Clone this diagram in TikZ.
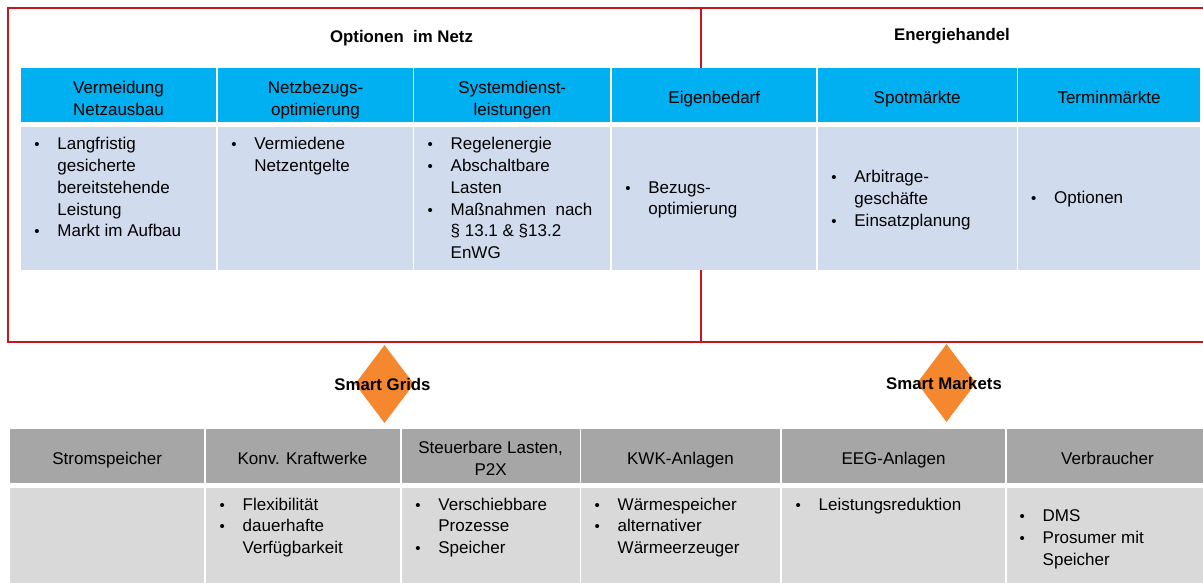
\documentclass[tikz,border=0pt]{standalone}
\usepackage{fontspec}
\setmainfont{Liberation Sans}
\usetikzlibrary{shapes.geometric}
\definecolor{hblue}{HTML}{00B0F0}
\definecolor{bblue}{HTML}{D1DBEE}
\definecolor{hgray}{HTML}{A6A6A6}
\definecolor{bgray}{HTML}{D9D9D9}
\definecolor{myred}{HTML}{C8161D}
\definecolor{myorange}{HTML}{F5872F}
\newcommand\bul{\makebox[21pt][l]{\makebox[1pt]{\fontsize{15}{15}\selectfont\textbullet}}}
\newcommand\cellbox[6]{%
  \pgfmathsetmacro\cw{#4-#2}\pgfmathsetmacro\ch{#5-#3}%
  \node[cell,fill=#6,minimum width=\cw pt,minimum height=\ch pt] (#1) at (#2,#3) {};}
\tikzset{
  cell/.style={draw=none,inner sep=0pt,outer sep=0pt,anchor=north west},
  txt/.style={inner sep=0pt,anchor=base,font=\fontsize{17}{21.7}\selectfont},
  lst/.style={inner sep=0pt,anchor=base west,font=\fontsize{17}{21.7}\selectfont},
  ttl/.style={inner sep=0pt,anchor=base,font=\fontsize{16.8}{20}\selectfont\bfseries},
  redline/.style={draw=myred,line width=2pt},
  dia/.style={diamond,fill=myorange,draw=none,inner sep=0pt,minimum width=59pt,minimum height=78pt}
}
\begin{document}
\begin{tikzpicture}[x=1pt,y=-1pt]
\useasboundingbox (0,0) rectangle (1203,583);
% frame
\coordinate (fr1) at (1203,8);
\coordinate (fr2) at (8,8);
\coordinate (fr3) at (8,342);
\coordinate (fr4) at (1203,342);
\draw[redline] (fr1) -- (fr2) -- (fr3) -- (fr4);
\coordinate (dv1) at (701,8);
\coordinate (dv2) at (701,68);
\coordinate (dv3) at (701,269.5);
\coordinate (dv4) at (701,342);
\draw[redline] (dv1) -- (dv2);
\draw[redline] (dv3) -- (dv4);
\node[ttl] (tnetz) at (401.5,42.3) {Optionen\ \ im Netz};
\node[ttl] (thandel) at (952,41) {Energiehandel};
% top table
\cellbox{h1}{20.7}{68}{216}{122.5}{hblue}
\cellbox{h2}{217.7}{68}{412.7}{122.5}{hblue}
\cellbox{h3}{414}{68}{610.3}{122.5}{hblue}
\cellbox{h4}{611.7}{68}{816.3}{122.5}{hblue}
\cellbox{h5}{817.7}{68}{1016.7}{122.5}{hblue}
\cellbox{h6}{1018.3}{68}{1200}{122.5}{hblue}
\cellbox{b1}{20.7}{127.5}{216}{269.5}{bblue}
\cellbox{b2}{217.7}{127.5}{412.7}{269.5}{bblue}
\cellbox{b3}{414}{127.5}{610.3}{269.5}{bblue}
\cellbox{b4}{611.7}{127.5}{816.3}{269.5}{bblue}
\cellbox{b5}{817.7}{127.5}{1016.7}{269.5}{bblue}
\cellbox{b6}{1018.3}{127.5}{1200}{269.5}{bblue}
\node[txt] (h1t) at (118.5,94) {\begin{tabular}[t]{@{}c@{}}Vermeidung\\Netzausbau\end{tabular}};
\node[txt] (h2t) at (315.5,94) {\begin{tabular}[t]{@{}c@{}}Netzbezugs-\\optimierung\end{tabular}};
\node[txt] (h3t) at (512.3,94) {\begin{tabular}[t]{@{}c@{}}Systemdienst-\\leistungen\end{tabular}};
\node[txt] (h4t) at (714.3,103.8) {Eigenbedarf};
\node[txt] (h5t) at (917.2,103.8) {Spotmärkte};
\node[txt] (h6t) at (1109,103.8) {Terminmärkte};
\node[lst] (b1t) at (36.2,150) {\begin{tabular}[t]{@{}l@{}l@{}}\bul&Langfristig\\&gesicherte\\&bereitstehende\\&Leistung\\\bul&Markt im Aufbau\end{tabular}};
\node[lst] (b2t) at (233.2,150) {\begin{tabular}[t]{@{}l@{}l@{}}\bul&Vermiedene\\&Netzentgelte\end{tabular}};
\node[lst] (b3t) at (429.5,150) {\begin{tabular}[t]{@{}l@{}l@{}}\bul&Regelenergie\\\bul&Abschaltbare\\&Lasten\\\bul&Maßnahmen\ \ nach\\&§ 13.1 \& §13.2\\&EnWG\end{tabular}};
\node[lst] (b4t) at (627.2,193.3) {\begin{tabular}[t]{@{}l@{}l@{}}\bul&Bezugs-\\&optimierung\end{tabular}};
\node[lst] (b5t) at (833.2,182.7) {\begin{tabular}[t]{@{}l@{}l@{}}\bul&Arbitrage-\\&geschäfte\\\bul&Einsatzplanung\end{tabular}};
\node[lst] (b6t) at (1033,204) {\begin{tabular}[t]{@{}l@{}l@{}}\bul&Optionen\end{tabular}};
% diamonds
\node[dia] (dgrid) at (384.5,384) {};
\node[dia] (dmark) at (946.5,383) {};
\node[ttl] (tgrid) at (382.5,390.7) {Smart Grids};
\node[ttl] (tmark) at (944,389.3) {Smart Markets};
% bottom table
\cellbox{g1}{10}{429.3}{204.3}{482.7}{hgray}
\cellbox{g2}{206}{429.3}{400}{482.7}{hgray}
\cellbox{g3}{401.7}{429.3}{579.5}{482.7}{hgray}
\cellbox{g4}{581}{429.3}{780}{482.7}{hgray}
\cellbox{g5}{782}{429.3}{1005}{482.7}{hgray}
\cellbox{g6}{1006.7}{429.3}{1203}{482.7}{hgray}
\cellbox{c1}{10}{488.3}{204.3}{583}{bgray}
\cellbox{c2}{206}{488.3}{400}{583}{bgray}
\cellbox{c3}{401.7}{488.3}{579.5}{583}{bgray}
\cellbox{c4}{581}{488.3}{780}{583}{bgray}
\cellbox{c5}{782}{488.3}{1005}{583}{bgray}
\cellbox{c6}{1006.7}{488.3}{1203}{583}{bgray}
\node[txt] (g1t) at (107.2,464) {Stromspeicher};
\node[txt] (g2t) at (302.5,464) {Konv. Kraftwerke};
\node[txt] (g3t) at (490.6,453.3) {\begin{tabular}[t]{@{}c@{}}Steuerbare Lasten,\\P2X\end{tabular}};
\node[txt] (g4t) at (680.5,464) {KWK-Anlagen};
\node[txt] (g5t) at (893.5,464) {EEG-Anlagen};
\node[txt] (g6t) at (1107.5,464) {Verbraucher};
\node[lst] (c2t) at (221.5,510) {\begin{tabular}[t]{@{}l@{}l@{}}\bul&Flexibilität\\\bul&dauerhafte\\&Verfügbarkeit\end{tabular}};
\node[lst] (c3t) at (417.2,510) {\begin{tabular}[t]{@{}l@{}l@{}}\bul&Verschiebbare\\&Prozesse\\\bul&Speicher\end{tabular}};
\node[lst] (c4t) at (596.5,510) {\begin{tabular}[t]{@{}l@{}l@{}}\bul&Wärmespeicher\\\bul&alternativer\\&Wärmeerzeuger\end{tabular}};
\node[lst] (c5t) at (797.5,510) {\begin{tabular}[t]{@{}l@{}l@{}}\bul&Leistungsreduktion\end{tabular}};
\node[lst] (c6t) at (1021.5,521.7) {\begin{tabular}[t]{@{}l@{}l@{}}\bul&DMS\\\bul&Prosumer mit\\&Speicher\end{tabular}};
\end{tikzpicture}
\end{document}
